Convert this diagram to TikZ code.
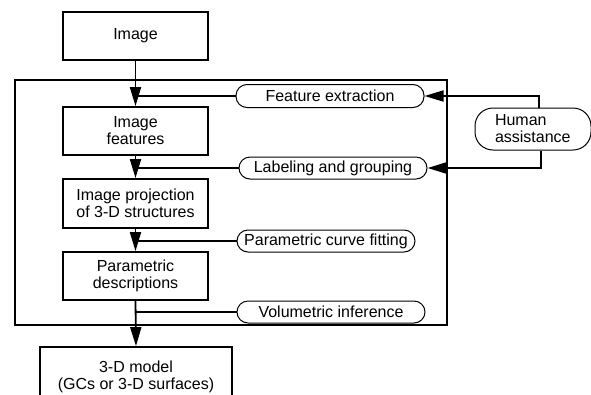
\documentclass[tikz,border=0pt]{standalone}
\usepackage{fontspec}
\setmainfont{Liberation Sans}
\usepackage{tikz}
\usetikzlibrary{arrows.meta}

\tikzset{
    stage/.style = {draw, line width=1.8pt, minimum width=145pt, minimum height=48pt, inner sep=0pt, align=center, font=\fontsize{16}{17}\selectfont},
    task/.style = {draw, line width=1pt, rounded corners=11pt, minimum height=23pt, inner sep=0pt, font=\fontsize{16}{17}\selectfont},
    flow/.style = {line width=1.8pt},
    feed/.style = {line width=1.8pt, -{Triangle[length=19pt, width=11pt]}},
}

\begin{document}
\begin{tikzpicture}[x=1pt, y=-1pt]
            \useasboundingbox (0, 0) rectangle (591, 394);
            \clip (0, 0) rectangle (591, 394);
            \node (frame) at (231, 202.5) [draw, line width=1.8pt, minimum width=432pt, minimum height=245pt] {};
            \node (img) at (135.5, 36) [stage] {Image};
            \node (imf) at (135.5, 131) [stage] {Image\\features};
            \node (proj) at (135.5, 203.5) [stage, minimum height=49pt] {Image projection\\of 3-D structures};
            \node (par) at (135.5, 276) [stage] {Parametric\\descriptions};
            \node (model) at (136, 377) [stage, minimum width=192pt, minimum height=60pt] {3-D model\\(GCs or 3-D surfaces)};
            \node (fe) at (330, 96) [task, minimum width=188pt] {Feature extraction};
            \node (lab) at (333, 168) [task, minimum width=188pt, minimum height=22pt] {Labeling and grouping};
            \node (pcf) at (326, 241) [task, minimum width=178pt, minimum height=22pt] {Parametric curve fitting};
            \node (vol) at (331, 312) [task, minimum width=188pt, minimum height=22pt] {Volumetric inference};
            \node (hum) at (533, 129) [task, rounded corners=18pt, minimum width=116pt, minimum height=42pt, align=left, text width=76pt] {Human\\assistance};
            \draw [feed] (img.south) -- (imf.north);
            \draw [feed] (imf.south) -- (proj.north);
            \draw [feed] (proj.south) -- (par.north);
            \draw [feed] (par.south) -- (model.north);
            \draw [flow] (fe.west) -- (fe.west -| img.south);
            \draw [flow] (lab.west) -- (lab.west -| img.south);
            \draw [flow] (pcf.west) -- (pcf.west -| img.south);
            \draw [flow] (vol.west) -- (vol.west -| img.south);
            \draw [feed] ([xshift=6pt]hum.north) |- (fe.east);
            \draw [feed, line width=2.4pt] ([xshift=8pt]hum.south) |- (lab.east);
        \end{tikzpicture}
\end{document}
